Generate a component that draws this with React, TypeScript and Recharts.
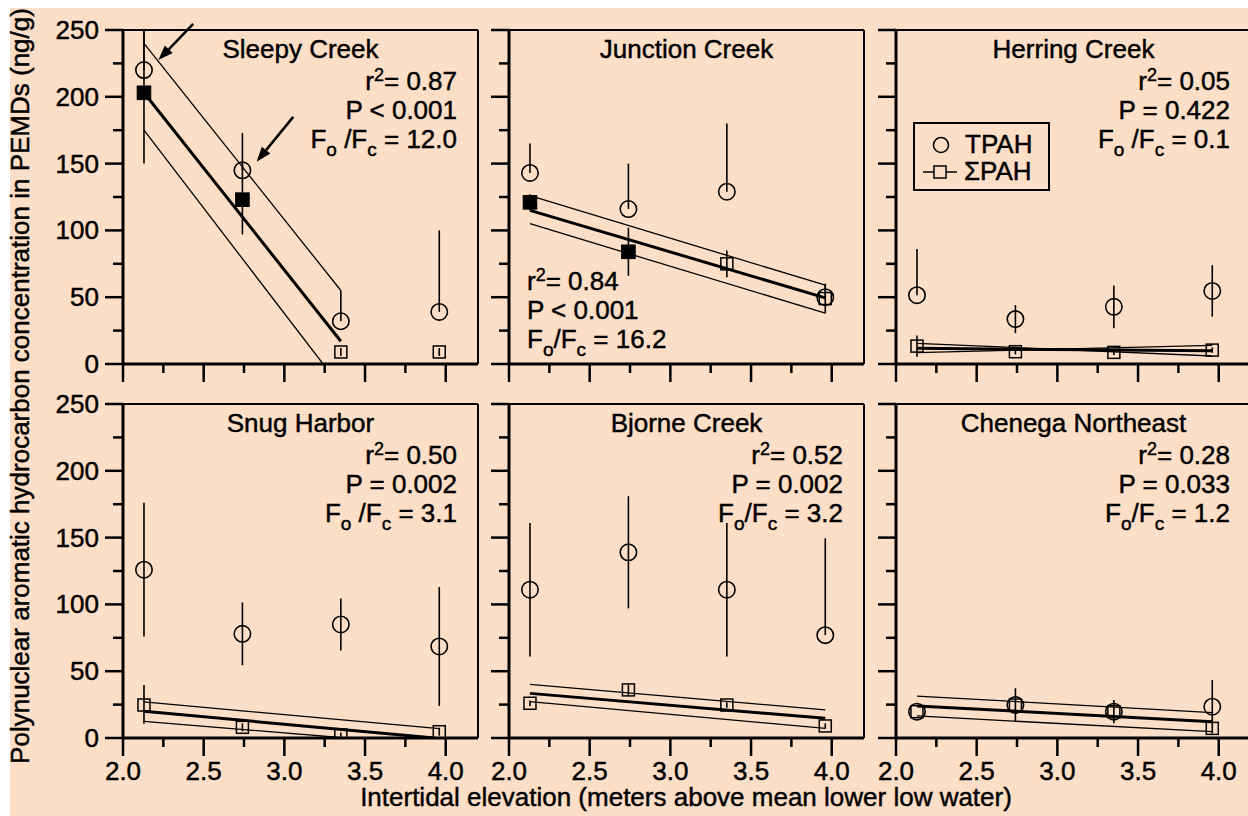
import React from 'react';
import { ComposedChart, Scatter, XAxis, YAxis, ErrorBar, ReferenceLine } from 'recharts';

const FONT = '"Liberation Sans", Arial, Helvetica, sans-serif';
const PEACH = '#FDDEC6';
const INK = '#000';
const TEXT_STROKE = 0.45;

// ---- shared axes ----
const elevation = [2.13, 2.74, 3.35, 3.96];
const xTicks = [2, 2.25, 2.5, 2.75, 3, 3.25, 3.5, 3.75, 4];
const yTicks = [0, 25, 50, 75, 100, 125, 150, 175, 200, 225, 250];
const xDomain = [2, 4.2];
const yDomain = [0, 250];

// ---- Sleepy Creek ----
const sleepyTpah = [220, 145, 32, 39];
const sleepyTpahErr = [[0, 30], [0, 28], [0, 23], [0, 61]];
const sleepyPah = [203, 123, 9, 9];
const sleepyPahErr = [[53, 47], [26, 26], [3, 3], [3, 3]];
const sleepyFilled = [true, true, false, false];
const sleepyFit = [[2.13, 203], [3.35, 17]];
const sleepyUpper = [[2.13, 240], [3.35, 55]];
const sleepyLower = [[2.13, 175], [3.24, 0]];
const sleepyStats = ['0.87', '< 0.001', '12.0'];
const sleepyArrows = [
  [[2.435, 254.5], [2.219, 227.5]],
  [[3.055, 185], [2.828, 151.4]],
];

// ---- Junction Creek ----
const junctionTpah = [143, 116, 129, 50];
const junctionTpahErr = [[0, 22], [0, 34], [0, 51], [0, 10]];
const junctionPah = [121, 84, 75, 49];
const junctionPahErr = [[6, 6], [18, 18], [10, 10], [11, 11]];
const junctionFilled = [true, true, false, false];
const junctionFit = [[2.13, 115], [3.96, 49.5]];
const junctionUpper = [[2.13, 126], [3.96, 59]];
const junctionLower = [[2.13, 105], [3.96, 38]];
const junctionStats = ['0.84', '< 0.001', '16.2'];

// ---- Herring Creek ----
const herringTpah = [51.5, 33.6, 42.8, 54.7];
const herringTpahErr = [[0, 34.5], [10.5, 10.5], [16, 16], [19.3, 19.3]];
const herringPah = [13.4, 9.2, 8.7, 10.4];
const herringPahErr = [[8, 8], [2, 2], [2, 2], [2, 2]];
const herringFilled = [false, false, false, false];
const herringFit = [[2.13, 11.7], [3.96, 9.9]];
const herringUpper = [[2.13, 15.5], [3.96, 6]];
const herringLower = [[2.13, 8.5], [3.96, 14]];
const herringStats = ['0.05', '= 0.422', '0.1'];

// ---- Snug Harbor ----
const snugTpah = [126, 78, 85, 68.5];
const snugTpahErr = [[50, 50], [23.5, 23.5], [19.5, 19.5], [44.5, 44.5]];
const snugPah = [24.7, 8, 2.2, 4.7];
const snugPahErr = [[14, 15], [3, 3], [2, 2], [3, 3]];
const snugFilled = [false, false, false, false];
const snugFit = [[2.13, 20], [3.93, 0]];
const snugUpper = [[2.13, 27], [3.96, 7]];
const snugLower = [[2.13, 12.5], [3.38, 0]];
const snugStats = ['0.50', '= 0.002', '3.1'];

// ---- Bjorne Creek ----
const bjorneTpah = [111, 139, 111, 77];
const bjorneTpahErr = [[50, 50], [42, 42], [50, 50], [0, 72.5]];
const bjornePah = [26, 36, 24.7, 9];
const bjornePahErr = [[2, 2], [4, 4], [2, 2], [2, 2]];
const bjorneFilled = [false, false, false, false];
const bjorneFit = [[2.13, 33.4], [3.96, 14.7]];
const bjorneUpper = [[2.13, 40.2], [3.96, 21]];
const bjorneLower = [[2.13, 27.2], [3.96, 7.2]];
const bjorneStats = ['0.52', '= 0.002', '3.2'];

// ---- Chenega Northeast ----
const chenegaTpah = [19.7, 24.7, 19.7, 23.4];
const chenegaTpahErr = [[0, 0], [12.5, 12.5], [8.7, 8.7], [20, 20]];
const chenegaPah = [19.7, 24.7, 19.7, 7.2];
const chenegaPahErr = [[0, 0], [0, 0], [0, 0], [0, 0]];
const chenegaFilled = [false, false, false, false];
const chenegaFit = [[2.13, 24], [3.96, 12.2]];
const chenegaUpper = [[2.13, 31.4], [3.96, 19]];
const chenegaLower = [[2.13, 16.5], [3.96, 4.7]];
const chenegaStats = ['0.28', '= 0.033', '1.2'];

const sites = [
  { name: 'Sleepy Creek', tpah: sleepyTpah, tpahErr: sleepyTpahErr, pah: sleepyPah, pahErr: sleepyPahErr, filled: sleepyFilled, fit: sleepyFit, upper: sleepyUpper, lower: sleepyLower, stats: sleepyStats, slash: ' /', statsLeft: false, arrows: sleepyArrows },
  { name: 'Junction Creek', tpah: junctionTpah, tpahErr: junctionTpahErr, pah: junctionPah, pahErr: junctionPahErr, filled: junctionFilled, fit: junctionFit, upper: junctionUpper, lower: junctionLower, stats: junctionStats, slash: '/', statsLeft: true, arrows: [] },
  { name: 'Herring Creek', tpah: herringTpah, tpahErr: herringTpahErr, pah: herringPah, pahErr: herringPahErr, filled: herringFilled, fit: herringFit, upper: herringUpper, lower: herringLower, stats: herringStats, slash: ' /', statsLeft: false, arrows: [] },
  { name: 'Snug Harbor', tpah: snugTpah, tpahErr: snugTpahErr, pah: snugPah, pahErr: snugPahErr, filled: snugFilled, fit: snugFit, upper: snugUpper, lower: snugLower, stats: snugStats, slash: ' /', statsLeft: false, arrows: [] },
  { name: 'Bjorne Creek', tpah: bjorneTpah, tpahErr: bjorneTpahErr, pah: bjornePah, pahErr: bjornePahErr, filled: bjorneFilled, fit: bjorneFit, upper: bjorneUpper, lower: bjorneLower, stats: bjorneStats, slash: '/', statsLeft: false, arrows: [] },
  { name: 'Chenega Northeast', tpah: chenegaTpah, tpahErr: chenegaTpahErr, pah: chenegaPah, pahErr: chenegaPahErr, filled: chenegaFilled, fit: chenegaFit, upper: chenegaUpper, lower: chenegaLower, stats: chenegaStats, slash: '/', statsLeft: false, arrows: [] },
];

// ---- layout ----
const PLOT_LEFT = [123, 509, 896];
const PLOT_TOP = [30, 404];
const PLOT_W = 355;
const PLOT_H = 334;
const AXIS_W = 110;
const AXIS_H = 50;
const PAD_TOP = 24;
const PAD_RIGHT = 10;
const CHART_W = AXIS_W + PLOT_W + PAD_RIGHT;
const CHART_H = PAD_TOP + PLOT_H + AXIS_H;

const textProps = { fontSize: 26, fontFamily: FONT, fill: INK, stroke: INK, strokeWidth: TEXT_STROKE };

const isMajorX = (v: number) => Math.abs(v * 2 - Math.round(v * 2)) < 1e-6;

function XTick(props: any) {
  const { x, y, payload, showLabel } = props;
  const v = payload.value as number;
  const major = isMajorX(v);
  return (
    <g>
      <line x1={x} x2={x} y1={y} y2={y + (major ? 18 : 9)} stroke={INK} strokeWidth={2.5} />
      {showLabel && major && (
        <text x={x} y={y + 42} textAnchor="middle" {...textProps}>
          {v.toFixed(1)}
        </text>
      )}
    </g>
  );
}

function YTick(props: any) {
  const { x, y, payload, showLabel } = props;
  const v = payload.value as number;
  const major = v % 50 === 0;
  return (
    <g>
      <line x1={x} x2={x - (major ? 18 : 10)} y1={y} y2={y} stroke={INK} strokeWidth={2.5} />
      {showLabel && major && (
        <text x={x - 24} y={y + 9} textAnchor="end" {...textProps}>
          {v}
        </text>
      )}
    </g>
  );
}

const NoMarker = () => <g />;

function CircleMarker(props: any) {
  const { cx, cy } = props;
  return <circle cx={cx} cy={cy} r={8.2} fill="none" stroke={INK} strokeWidth={1.6} />;
}

function SquareMarker(props: any) {
  const { cx, cy, payload } = props;
  if (payload.filled) {
    return <rect x={cx - 6.8} y={cy - 6.8} width={13.6} height={13.6} fill={INK} stroke={INK} strokeWidth={1} />;
  }
  return <rect x={cx - 6} y={cy - 6} width={12} height={12} fill="none" stroke={INK} strokeWidth={1.5} />;
}

function ArrowShape(props: any) {
  const { x1, y1, x2, y2 } = props;
  const ang = Math.atan2(y2 - y1, x2 - x1);
  const len = 15;
  const half = 5.5;
  const bx = x2 - len * Math.cos(ang);
  const by = y2 - len * Math.sin(ang);
  const px = -Math.sin(ang) * half;
  const py = Math.cos(ang) * half;
  return (
    <g>
      <line x1={x1} y1={y1} x2={bx} y2={by} stroke={INK} strokeWidth={2.5} />
      <polygon points={`${x2},${y2} ${bx + px},${by + py} ${bx - px},${by - py}`} fill={INK} />
    </g>
  );
}

const toPoints = (pairs: number[][]) => pairs.map(([x, y]) => ({ x, y }));

function Panel({ site, col, row }: { site: any; col: number; row: number }) {
  const tpahData = elevation.map((x, i) => ({ x, y: site.tpah[i], err: site.tpahErr[i] }));
  const pahData = elevation.map((x, i) => ({ x, y: site.pah[i], err: site.pahErr[i], filled: site.filled[i] }));
  return (
    <div style={{ position: 'absolute', left: PLOT_LEFT[col] - AXIS_W, top: PLOT_TOP[row] - PAD_TOP }}>
      <ComposedChart
        width={CHART_W}
        height={CHART_H}
        margin={{ top: PAD_TOP, right: PAD_RIGHT, bottom: 0, left: 0 }}
      >
        <XAxis
          type="number"
          dataKey="x"
          domain={xDomain}
          ticks={xTicks}
          interval={0}
          allowDataOverflow
          height={AXIS_H}
          tickSize={0}
          tickMargin={0}
          tickLine={false}
          axisLine={{ stroke: INK, strokeWidth: 3 }}
          tick={(p: any) => <XTick {...p} showLabel={row === 1} />}
        />
        <YAxis
          type="number"
          dataKey="y"
          domain={yDomain}
          ticks={yTicks}
          interval={0}
          allowDataOverflow
          width={AXIS_W}
          tickSize={0}
          tickMargin={0}
          tickLine={false}
          axisLine={{ stroke: INK, strokeWidth: 3 }}
          tick={(p: any) => <YTick {...p} showLabel={col === 0} />}
        />
        <ReferenceLine y={250} stroke={INK} strokeWidth={2} />
        <ReferenceLine x={4.2} stroke={INK} strokeWidth={2} />
        <Scatter data={toPoints(site.upper)} line={{ stroke: INK, strokeWidth: 1.3 }} shape={NoMarker} isAnimationActive={false} />
        <Scatter data={toPoints(site.lower)} line={{ stroke: INK, strokeWidth: 1.3 }} shape={NoMarker} isAnimationActive={false} />
        <Scatter data={toPoints(site.fit)} line={{ stroke: INK, strokeWidth: 3 }} shape={NoMarker} isAnimationActive={false} />
        <Scatter data={pahData} shape={SquareMarker} isAnimationActive={false}>
          <ErrorBar dataKey="err" direction="y" width={0} stroke={INK} strokeWidth={1.6} />
        </Scatter>
        <Scatter data={tpahData} shape={CircleMarker} isAnimationActive={false}>
          <ErrorBar dataKey="err" direction="y" width={0} stroke={INK} strokeWidth={1.6} />
        </Scatter>
        {site.arrows.map((a: number[][], i: number) => (
          <ReferenceLine
            key={i}
            segment={[{ x: a[0][0], y: a[0][1] }, { x: a[1][0], y: a[1][1] }]}
            ifOverflow="visible"
            shape={ArrowShape}
          />
        ))}
      </ComposedChart>
    </div>
  );
}

function StatsText({ site, col, row }: { site: any; col: number; row: number }) {
  const [r2, p, f] = site.stats;
  const left = site.statsLeft;
  const x = left ? PLOT_LEFT[col] + 18 : PLOT_LEFT[col] + PLOT_W - 21;
  const base = left ? 290 : PLOT_TOP[row] + 60;
  const anchor = left ? 'start' : 'end';
  return (
    <g {...textProps} textAnchor={anchor}>
      <text x={x} y={base}>
        r<tspan dy={-9} fontSize={18}>2</tspan>
        <tspan dy={9}>= {r2}</tspan>
      </text>
      <text x={x} y={base + 29}>P {p}</text>
      <text x={x} y={base + 58}>
        F<tspan dy={8} fontSize={19}>o</tspan>
        <tspan dy={-8}>{site.slash}F</tspan>
        <tspan dy={8} fontSize={19}>c</tspan>
        <tspan dy={-8}> = {f}</tspan>
      </text>
    </g>
  );
}

function Overlay() {
  const legendX = PLOT_LEFT[2];
  const legendY = PLOT_TOP[0];
  return (
    <svg width={1248} height={816} style={{ position: 'absolute', left: 0, top: 0, pointerEvents: 'none' }}>
      {sites.map((s, i) => {
        const col = i % 3;
        const row = Math.floor(i / 3);
        return (
          <g key={s.name}>
            <text x={PLOT_LEFT[col] + PLOT_W / 2} y={PLOT_TOP[row] + 28} textAnchor="middle" {...textProps}>
              {s.name}
            </text>
            <StatsText site={s} col={col} row={row} />
          </g>
        );
      })}
      {/* legend */}
      <g>
        <rect x={legendX + 18} y={legendY + 93} width={135} height={67} fill={PEACH} stroke={INK} strokeWidth={2} />
        <circle cx={legendX + 45} cy={legendY + 115} r={7.5} fill="none" stroke={INK} strokeWidth={1.6} />
        <text x={legendX + 69} y={legendY + 123} {...textProps}>TPAH</text>
        <line x1={legendX + 27} x2={legendX + 61} y1={legendY + 142} y2={legendY + 142} stroke={INK} strokeWidth={1.6} />
        <rect x={legendX + 38} y={legendY + 136} width={12} height={12} fill={PEACH} stroke={INK} strokeWidth={1.5} />
        <text x={legendX + 68} y={legendY + 150} {...textProps}>ΣPAH</text>
      </g>
      {/* axis titles */}
      <text x={686} y={806} textAnchor="middle" {...textProps}>
        Intertidal elevation (meters above mean lower low water)
      </text>
      <text transform="translate(29, 386) rotate(-90)" textAnchor="middle" {...textProps}>
        Polynuclear aromatic hydrocarbon concentration in PEMDs (ng/g)
      </text>
    </svg>
  );
}

export default function App() {
  return (
    <div style={{ position: 'fixed', left: 0, top: 0, width: 1248, height: 816, overflow: 'hidden', background: '#fff' }}>
      <div style={{ position: 'absolute', left: 10, top: 8, right: 0, bottom: 0, background: PEACH }} />
      {sites.map((s, i) => (
        <Panel key={s.name} site={s} col={i % 3} row={Math.floor(i / 3)} />
      ))}
      <Overlay />
    </div>
  );
}
